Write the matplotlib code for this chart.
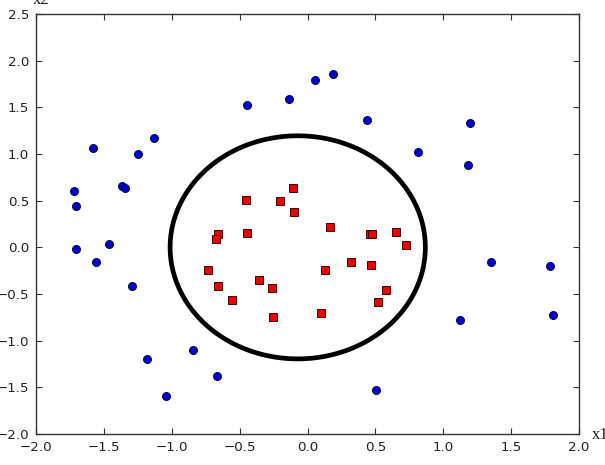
import matplotlib
matplotlib.use("Agg")
import matplotlib.pyplot as plt
import numpy as np

# --- data ---
# negative class (blue circles)
neg_x1 = [-1.72, -1.705, -1.705, -1.58, -1.56, -1.465, -1.37, -1.345, -1.25, -1.13,
          -1.29, -1.185, -1.04, -0.84, -0.665, -0.446, -0.136, 0.055, 0.188, 0.44,
          0.814, 1.197, 1.18, 1.35, 1.123, 1.785, 1.81, 0.503]
neg_x2 = [0.60, 0.44, -0.02, 1.06, -0.16, 0.04, 0.66, 0.64, 1.00, 1.17,
          -0.41, -1.20, -1.59, -1.10, -1.38, 1.52, 1.59, 1.79, 1.855, 1.36,
          1.02, 1.33, 0.88, -0.155, -0.78, -0.196, -0.725, -1.53]

# positive class (red squares)
pos_x1 = [-0.453, -0.203, -0.107, -0.10, -0.657, -0.674, -0.448, -0.73, -0.662, -0.556,
          -0.36, -0.264, -0.256, 0.168, 0.46, 0.475, 0.652, 0.726, 0.32, 0.47,
          0.131, 0.578, 0.522, 0.097]
pos_x2 = [0.507, 0.496, 0.636, 0.378, 0.146, 0.089, 0.15, -0.246, -0.41, -0.568,
          -0.35, -0.436, -0.75, 0.214, 0.139, 0.145, 0.16, 0.028, -0.157, -0.19,
          -0.243, -0.461, -0.583, -0.707]

# decision boundary (ellipse): centre and half-axes
boundary_center = (-0.072, 0.0)
boundary_radii = (0.94, 1.195)

x_ticks = [-2.0, -1.5, -1.0, -0.5, 0.0, 0.5, 1.0, 1.5, 2.0]
y_ticks = [-2.0, -1.5, -1.0, -0.5, 0.0, 0.5, 1.0, 1.5, 2.0, 2.5]


def main():
    fig = plt.figure(figsize=(6.05, 4.65), dpi=100)
    ax = fig.add_axes([36 / 605, 31 / 465, 543 / 605, 420 / 465])

    # boundary as zero contour of a quadratic
    gx, gy = np.meshgrid(np.linspace(-2, 2, 400), np.linspace(-2, 2.5, 400))
    cx, cy = boundary_center
    rx, ry = boundary_radii
    f = ((gx - cx) / rx) ** 2 + ((gy - cy) / ry) ** 2 - 1
    ax.contour(gx, gy, f, levels=[0], colors="black", linewidths=3.4)

    ax.plot(neg_x1, neg_x2, "o", color="#0000d0", markeredgecolor="#000030",
            markeredgewidth=0.6, markersize=5.8, linestyle="none")
    ax.plot(pos_x1, pos_x2, "s", color="#ee0000", markeredgecolor="#400000",
            markeredgewidth=0.7, markersize=6.2, linestyle="none")

    ax.set_xlim(-2, 2)
    ax.set_ylim(-2, 2.5)
    ax.set_xticks(x_ticks)
    ax.set_yticks(y_ticks)
    ax.set_xticklabels([f"{t:.1f}".replace("-", "\u2212") for t in x_ticks])
    ax.set_yticklabels([f"{t:.1f}".replace("-", "\u2212") for t in y_ticks])
    ax.tick_params(direction="in", top=True, right=True, length=4, width=0.8,
                   labelsize=9.6, pad=5, color="#333333", labelcolor="#222222")
    for s in ax.spines.values():
        s.set_color("#333333")
        s.set_linewidth(1.0)

    # axis labels sit at the corners, partly outside the frame as in the source
    fig.text(592 / 605, 1 - 439 / 465, "x1", family="Liberation Serif",
             fontsize=12, va="baseline", color="#222222")
    fig.text(33 / 605, 1 - 4 / 465, "x2", family="Liberation Serif",
             fontsize=12, va="baseline", color="#222222")

    fig.savefig("out.png", dpi=100)


if __name__ == "__main__":
    main()
